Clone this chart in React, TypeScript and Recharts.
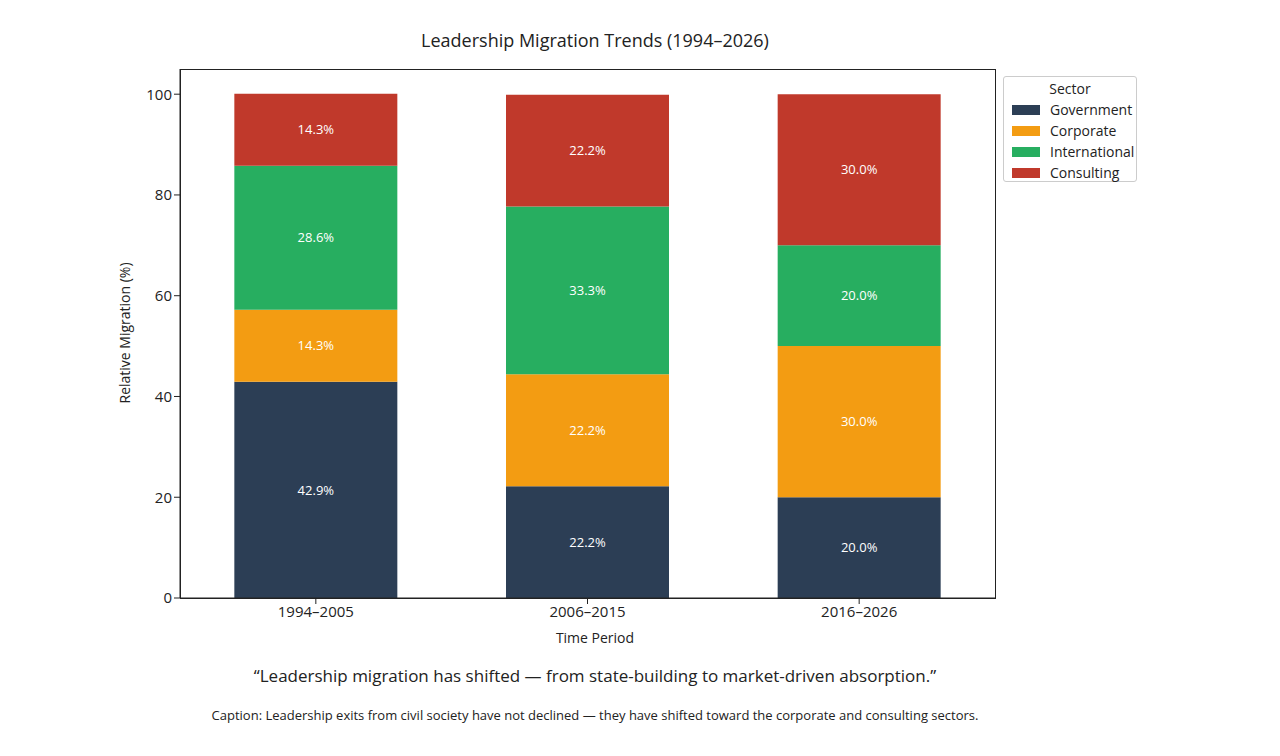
import React from "react";
import { BarChart, Bar, XAxis, YAxis, LabelList } from "recharts";

const periods = ["1994–2005", "2006–2015", "2016–2026"];
const government = [42.9, 22.2, 20.0];
const corporate = [14.3, 22.2, 30.0];
const international = [28.6, 33.3, 20.0];
const consulting = [14.3, 22.2, 30.0];
const yTicks = [0, 20, 40, 60, 80, 100];

const series = [
  { key: "Government", color: "#2c3e55", values: government },
  { key: "Corporate", color: "#f39c12", values: corporate },
  { key: "International", color: "#27ae60", values: international },
  { key: "Consulting", color: "#c0392b", values: consulting },
];

const data = periods.map((p, i) => {
  const row: any = { period: p };
  series.forEach((s) => (row[s.key] = s.values[i]));
  return row;
});

const font = "'Open Sans', sans-serif";

export default function App() {
  return (
    <div style={{ position: "relative", width: 1264, height: 740, fontFamily: font, color: "#222" }}>
      <div style={{ position: "absolute", top: 20, left: 0, width: 1174, textAlign: "center", fontSize: 18 }}>
        Leadership Migration Trends (1994–2026)
      </div>
      <BarChart width={1264} height={740} data={data} margin={{ top: 61, right: 277, bottom: 120, left: 112 }} barCategoryGap="20%">
        <XAxis dataKey="period" tick={{ fontSize: 15, fill: "#222", fontFamily: font }} tickLine={{ stroke: "#222" }} axisLine={{ stroke: "#222" }} height={30} />
        <YAxis domain={[0, 105]} ticks={yTicks} width={60} tick={{ fontSize: 15, fill: "#222", fontFamily: font }} tickLine={{ stroke: "#222" }} axisLine={{ stroke: "#222" }}
          label={{ value: "Relative Migration (%)", angle: -90, position: "insideLeft", offset: 0, dx: 5, dy: 70, style: { fontSize: 14, fill: "#222", fontFamily: font } }} />
        {series.map((s) => (
          <Bar key={s.key} dataKey={s.key} stackId="a" fill={s.color} isAnimationActive={false}>
            <LabelList dataKey={s.key} position="center" formatter={(v: any) => `${Number(v).toFixed(1)}%`} style={{ fill: "#fff", fontSize: 13, fontFamily: font }} />
          </Bar>
        ))}
      </BarChart>
      <div style={{ position: "absolute", left: 172, top: 61, width: 814, height: 528, border: "1px solid #222", pointerEvents: "none" }} />
      <div style={{ position: "absolute", left: 0, width: 1174, top: 620, textAlign: "center", fontSize: 14 }}>Time Period</div>
      <div style={{ position: "absolute", left: 0, width: 1174, top: 656, textAlign: "center", fontSize: 17 }}>
        “Leadership migration has shifted — from state-building to market-driven absorption.”
      </div>
      <div style={{ position: "absolute", left: 0, width: 1174, top: 698, textAlign: "center", fontSize: 13 }}>
        Caption: Leadership exits from civil society have not declined — they have shifted toward the corporate and consulting sectors.
      </div>
      <div style={{ position: "absolute", left: 995, top: 68, width: 134, height: 106, border: "1px solid #ccc", borderRadius: 3, background: "#fff", fontSize: 14, padding: "2px 0" , boxSizing: "border-box"}}>
        <div style={{ textAlign: "center", marginBottom: 1 }}>Sector</div>
        {series.map((s) => (
          <div key={s.key} style={{ display: "flex", alignItems: "center", height: 21, paddingLeft: 8 }}>
            <span style={{ display: "inline-block", width: 28, height: 10, background: s.color, marginRight: 10 }} />
            {s.key}
          </div>
        ))}
      </div>
    </div>
  );
}
